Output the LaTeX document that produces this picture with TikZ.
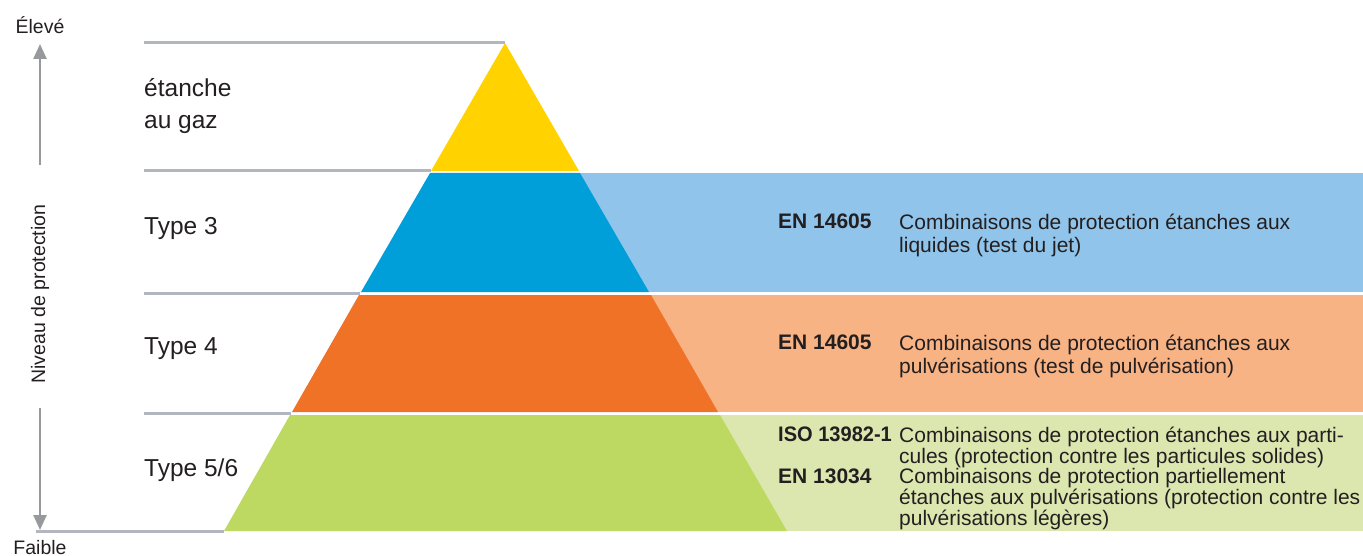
\documentclass[tikz,border=0pt]{standalone}
\usepackage{fontspec}
\usepackage{graphicx}
\setmainfont{Liberation Sans}
\usetikzlibrary{arrows.meta}
\definecolor{gline}{HTML}{B2B6BE}
\definecolor{garrow}{HTML}{97999C}
\definecolor{cyellow}{HTML}{FFD200}
\definecolor{cblue}{HTML}{009FDA}
\definecolor{lblue}{HTML}{90C4EA}
\definecolor{corange}{HTML}{F07226}
\definecolor{lorange}{HTML}{F8B385}
\definecolor{cgreen}{HTML}{BED962}
\definecolor{lgreen}{HTML}{DCE7B0}
\definecolor{txt}{HTML}{231F20}
\tikzset{
  level/.style={draw=gline, line width=3pt},
  axisarrow/.style={draw=garrow, line width=2.5pt, -{Triangle[length=15pt,width=13pt]}},
  leftlabel/.style={anchor=west, inner sep=0pt, text=txt, font=\fontsize{24.5}{32}\selectfont, align=left},
  code/.style={anchor=north west, inner sep=0pt, text=txt, font=\fontsize{21}{22.5}\selectfont\bfseries},
  desc/.style={anchor=north west, inner sep=0pt, text=txt, font=\fontsize{21}{22.5}\selectfont, align=left},
  axislabel/.style={inner sep=0pt, text=txt, font=\fontsize{19.5}{21}\selectfont}
}
\begin{document}
\begin{tikzpicture}[x=1pt,y=-1pt]
\useasboundingbox (0,0) rectangle (1363,556);
% light bands
\fill[lblue] (560,173) rectangle (1363,292);
\fill[lorange] (620,295) rectangle (1363,412);
\fill[lgreen] (680,415) rectangle (1363,531);
% pyramid
\fill[cyellow] (505,43) -- (431,171) -- (579,171) -- cycle;
\fill[cblue] (430,173) -- (580,173) -- (649,292) -- (361,292) -- cycle;
\fill[corange] (359,295) -- (651,295) -- (718,412) -- (292,412) -- cycle;
\fill[cgreen] (290,415) -- (720,415) -- (787,531) -- (224,531) -- cycle;
% level lines
\coordinate (l0a) at (144,43);  \coordinate (l0b) at (505,43);
\coordinate (l1a) at (144,171); \coordinate (l1b) at (431,171);
\coordinate (l2a) at (144,293.5); \coordinate (l2b) at (360,293.5);
\coordinate (l3a) at (144,413.5); \coordinate (l3b) at (291,413.5);
\coordinate (l4a) at (36,531);  \coordinate (l4b) at (224,531);
\draw[level] (l0a) -- (l0b);
\draw[level] (l1a) -- (l1b);
\draw[level] (l2a) -- (l2b);
\draw[level] (l3a) -- (l3b);
\draw[level] (l4a) -- (l4b);
% axis
\node[axislabel] (high) at (40,25) {Élevé};
\node[axislabel, anchor=north] (low) at (40,540) {Faible};
\node[axislabel, rotate=90] (axis) at (40,294) {Niveau de protection};
\coordinate (upstart) at (40,165);
\coordinate (uptip) at (40,44);
\coordinate (downstart) at (40,408);
\coordinate (downtip) at (40,530);
\draw[axisarrow] (upstart) -- (uptip);
\draw[axisarrow] (downstart) -- (downtip);
% left labels
\node[leftlabel] (gaz) at (144,106) {étanche\\au gaz};
\node[leftlabel] (t3) at (144,228) {Type 3};
\node[leftlabel] (t4) at (144,349) {Type 4};
\node[leftlabel] (t56) at (144,470) {Type 5/6};
% right texts
\node[code] (c3) at (778,214) {EN 14605};
\node[desc] (d3) at (899,214) {Combinaisons de protection étanches aux\\liquides (test du jet)};
\node[code] (c4) at (778,335) {EN 14605};
\node[desc] (d4) at (899,335) {Combinaisons de protection étanches aux\\pulvérisations (test de pulvérisation)};
\node[code] (c5) at (778,427) {\scalebox{0.955}[1]{ISO 13982-1}};
\node[desc, font=\fontsize{21}{20.7}\selectfont] (d5) at (899,427) {Combinaisons de protection étanches aux parti-\\cules (protection contre les particules solides)};
\node[code] (c6) at (778,468.5) {EN 13034};
\node[desc, font=\fontsize{21}{20.7}\selectfont] (d6) at (899,468.5) {Combinaisons de protection partiellement\\étanches aux pulvérisations (protection contre les\\pulvérisations légères)};
\end{tikzpicture}
\end{document}
